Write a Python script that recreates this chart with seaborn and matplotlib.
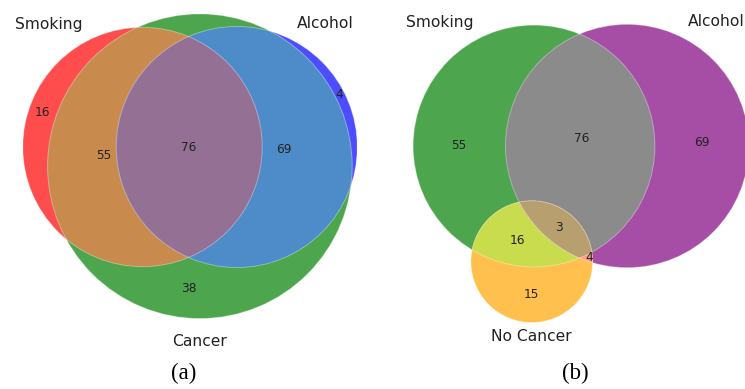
import numpy as np
import matplotlib
matplotlib.use("Agg")
import matplotlib.pyplot as plt
import seaborn as sns
from matplotlib.patches import Circle, Polygon

# region order (A, B, C bits): Abc, aBc, ABc, abC, AbC, aBC, ABC
KEYS = ["100", "010", "110", "001", "101", "011", "111"]

# panel (a)
names_a = ["Smoking", "Alcohol", "Cancer"]
subsets_a = [16, 4, 0, 38, 55, 69, 76]
colors_a = ["red", "blue", "green"]

# panel (b)
names_b = ["Smoking", "Alcohol", "No Cancer"]
subsets_b = [55, 69, 76, 15, 16, 4, 3]
colors_b = ["green", "purple", "orange"]

captions = ["(a)", "(b)"]

sns.set_theme(style="white")
plt.rcParams["font.family"] = ["DejaVu Sans"]

ALPHA = 0.7
SCALE = 17.5  # pixels per unit of radius


def lens_area(r1, r2, d):
    if d >= r1 + r2:
        return 0.0
    if d <= abs(r1 - r2):
        return np.pi * min(r1, r2) ** 2
    a1 = r1 ** 2 * np.arccos((d ** 2 + r1 ** 2 - r2 ** 2) / (2 * d * r1))
    a2 = r2 ** 2 * np.arccos((d ** 2 + r2 ** 2 - r1 ** 2) / (2 * d * r2))
    k = np.sqrt((-d + r1 + r2) * (d + r1 - r2) * (d - r1 + r2) * (d + r1 + r2))
    return a1 + a2 - 0.5 * k


def solve_dist(r1, r2, area):
    lo, hi = abs(r1 - r2), r1 + r2
    for _ in range(80):
        mid = (lo + hi) / 2
        if lens_area(r1, r2, mid) > area:
            lo = mid
        else:
            hi = mid
    return (lo + hi) / 2


def layout(subsets):
    s = dict(zip(KEYS, subsets))
    size = [sum(v for k, v in s.items() if k[i] == "1") for i in range(3)]
    r = np.sqrt(np.array(size) / np.pi)

    def ov(i, j):
        return sum(v for k, v in s.items() if k[i] == "1" and k[j] == "1")

    dab = solve_dist(r[0], r[1], ov(0, 1))
    dac = solve_dist(r[0], r[2], ov(0, 2))
    dbc = solve_dist(r[1], r[2], ov(1, 2))
    xc = (dab ** 2 + dac ** 2 - dbc ** 2) / (2 * dab)
    yc = -np.sqrt(max(dac ** 2 - xc ** 2, 0))
    return np.array([[0, 0], [dab, 0], [xc, yc]]), r


def on_white(c):
    return ALPHA * np.asarray(c) + (1 - ALPHA)


def mix(cols):
    f = 0.7 if len(cols) == 2 else 0.4
    return np.minimum(f * np.sum(cols, axis=0), 1.0)


def lens_poly(c1, r1, c2, r2, n=720):
    t = np.linspace(0, 2 * np.pi, n, endpoint=False)
    p1 = np.c_[c1[0] + r1 * np.cos(t), c1[1] + r1 * np.sin(t)]
    p2 = np.c_[c2[0] + r2 * np.cos(t), c2[1] + r2 * np.sin(t)]
    pts = np.vstack([p1[np.hypot(*(p1 - c2).T) <= r2],
                     p2[np.hypot(*(p2 - c1).T) <= r1]])
    m = pts.mean(axis=0)
    ang = np.arctan2(pts[:, 1] - m[1], pts[:, 0] - m[0])
    return pts[np.argsort(ang)]


def label_pos(centers, r, key, X, Y):
    D = [np.hypot(X - c[0], Y - c[1]) for c in centers]
    mask = np.ones_like(X, dtype=bool)
    for i in range(3):
        mask &= (D[i] < r[i]) if key[i] == "1" else (D[i] > r[i])
    if not mask.any():
        return None
    depth = np.min([np.abs(D[i] - r[i]) for i in range(3)], axis=0)
    if key.count("1") > 1:
        px, py = X[mask].mean(), Y[mask].mean()
        d = [np.hypot(px - c[0], py - c[1]) for c in centers]
        ok = all((d[i] < r[i]) if key[i] == "1" else (d[i] > r[i]) for i in range(3))
        dep = min(abs(d[i] - r[i]) for i in range(3))
        if ok and dep > 0.04 * r.max():
            return px, py
    depth = np.where(mask, depth, -1)
    idx = np.unravel_index(np.argmax(depth), depth.shape)
    return X[idx], Y[idx]


def draw_venn(fig, subsets, names, colors, anchor_px):
    centers, r = layout(subsets)
    base = [np.array(matplotlib.colors.to_rgb(c)) for c in colors]
    xmin = (centers[:, 0] - r).min()
    xmax = (centers[:, 0] + r).max()
    ymin = (centers[:, 1] - r).min()
    ymax = (centers[:, 1] + r).max()
    W, H = fig.get_size_inches() * fig.dpi
    left = anchor_px[0] + xmin * SCALE
    right = anchor_px[0] + xmax * SCALE
    top = anchor_px[1] - ymax * SCALE
    bottom = anchor_px[1] - ymin * SCALE
    ax = fig.add_axes([left / W, 1 - bottom / H, (right - left) / W, (bottom - top) / H])
    ax.set_xlim(xmin, xmax)
    ax.set_ylim(ymin, ymax)
    ax.axis("off")

    # single sets
    for i in range(3):
        ax.add_patch(Circle(centers[i], r[i], fc=on_white(base[i]), ec="none", zorder=1))
    # pairwise overlaps
    for i, j in [(0, 1), (0, 2), (1, 2)]:
        clip = Circle(centers[j], r[j], transform=ax.transData)
        p = Circle(centers[i], r[i], fc=on_white(mix([base[i], base[j]])), ec="none", zorder=2)
        ax.add_patch(p)
        p.set_clip_path(clip)
    # triple overlap
    poly = lens_poly(centers[0], r[0], centers[1], r[1])
    tri = Polygon(poly, closed=True, fc=on_white(mix(base)), ec="none", zorder=3)
    ax.add_patch(tri)
    tri.set_clip_path(Circle(centers[2], r[2], transform=ax.transData))
    # faint outlines
    for i in range(3):
        ax.add_patch(Circle(centers[i], r[i], fill=False, ec="white", lw=0.7, alpha=0.35, zorder=4))

    xs = np.linspace(xmin, xmax, 700)
    ys = np.linspace(ymin, ymax, 700)
    X, Y = np.meshgrid(xs, ys)
    for key, val in zip(KEYS, subsets):
        if val == 0:
            continue
        pos = label_pos(centers, r, key, X, Y)
        if pos is None:
            continue
        ax.text(pos[0], pos[1], str(val), ha="center", va="center", fontsize=8.7,
                color="#222222", zorder=5)

    ax.text(centers[0][0] - r[0] / 2, centers[0][1] + r[0] * 0.985, names[0],
            ha="right", va="baseline", fontsize=11.2, color="#222222")
    ax.text(centers[1][0] + r[1] / 2, centers[1][1] + r[1] * 0.985, names[1],
            ha="left", va="baseline", fontsize=11.2, color="#222222")
    ax.text(centers[2][0], centers[2][1] - r[2] * 1.1, names[2],
            ha="center", va="top", fontsize=11.2, color="#222222")
    return ax


fig = plt.figure(figsize=(7.45, 3.89), dpi=100)
draw_venn(fig, subsets_a, names_a, colors_a, (142.5, 147))
draw_venn(fig, subsets_b, names_b, colors_b, (534, 146))

for x, cap in zip([184, 575], captions):
    fig.text(x / 745, 1 - 373 / 389, cap, ha="center", va="center",
             fontsize=16.5, family="Liberation Serif", color="black")

fig.savefig("out.png", dpi=100)
